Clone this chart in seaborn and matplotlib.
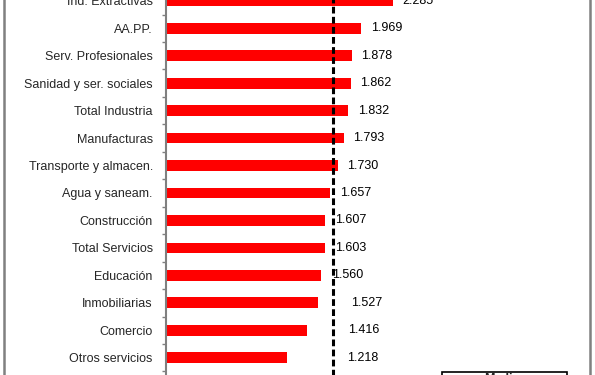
import numpy as np
import pandas as pd
import seaborn as sns
import matplotlib.pyplot as plt
from matplotlib.patches import Rectangle

# datos
sectores = ['Ind. Extractivas', 'AA.PP.', 'Serv. Profesionales', 'Sanidad y ser. sociales',
            'Total Industria', 'Manufacturas', 'Transporte y almacen.', 'Agua y saneam.',
            'Construcción', 'Total Servicios', 'Educación', 'Inmobiliarias', 'Comercio',
            'Otros servicios']
valores = [2.285, 1.969, 1.878, 1.862, 1.832, 1.793, 1.730, 1.657, 1.607, 1.603,
           1.560, 1.527, 1.416, 1.218]
media = 1.68
# desplazamiento de las etiquetas (px tras el final de la barra)
desplaz = [10, 10, 9, 9, 10, 9, 9, 10, 10, 10, 11, 34, 42, 60]

df = pd.DataFrame({'sector': sectores, 'valor': valores})

sns.set_theme(style='white')
plt.rcParams['font.family'] = ['Liberation Sans', 'DejaVu Sans']

fig = plt.figure(figsize=(5.95, 3.75), dpi=100)
ax = fig.add_axes([166/595, 1 - 398.9/375, 397/595, 411.8/375])

sns.barplot(data=df, x='valor', y='sector', orient='h', color='#FF0000',
            saturation=1, width=0.39, linewidth=0, ax=ax)
ax.axvline(media, color='black', lw=2.2, dashes=(2.2, 1.1))

for i, (v, d) in enumerate(zip(valores, desplaz)):
    ax.annotate(f'{v:.3f}', (v, i), xytext=(d*0.72, 0), textcoords='offset points',
                va='center', ha='left', fontsize=9, color='black')

ax.set_xlim(0, 4)
ax.set_ylim(14.5, -0.5)
ax.set_xlabel('')
ax.set_ylabel('')
ax.set_xticks([])
ax.set_yticks(np.arange(len(sectores)))
ax.set_yticklabels(sectores, fontsize=9)
ax.set_yticks(np.arange(-0.5, 15, 1), minor=True)
ax.tick_params(axis='y', which='major', length=0, pad=9.5)
ax.tick_params(axis='y', which='minor', length=3, width=1, color='#808080', direction='out', left=True)
for s in ['top', 'right', 'bottom']:
    ax.spines[s].set_visible(False)
ax.spines['left'].set_color('#808080')
ax.spines['left'].set_linewidth(1.5)

# marco del grafico y cuadro de leyenda (recortados)
fig.patches.append(Rectangle((4/595, -0.1), 585.5/595, 1.2, transform=fig.transFigure,
                             fill=False, edgecolor='#808080', lw=1.8))
fig.patches.append(Rectangle((442/595, -0.1), 125/595, 0.1 + 3/375, transform=fig.transFigure,
                             facecolor='white', edgecolor='black', lw=1.2))
fig.text(502/595, 1 - 373.5/375, 'Media', ha='center', va='top', fontsize=9, fontweight='bold')

fig.savefig('out.png', dpi=100)
